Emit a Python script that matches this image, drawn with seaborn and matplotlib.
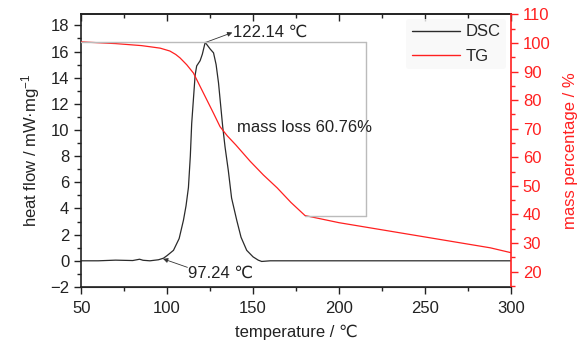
import numpy as np
import pandas as pd
import seaborn as sns
import matplotlib.pyplot as plt
from matplotlib.lines import Line2D
from matplotlib.ticker import MultipleLocator

# DSC curve (heat flow, mW/mg)
dsc_temp = [50, 60, 70, 80, 84, 86, 90, 95, 97.9, 100, 103.7, 107, 109.5, 111, 112.4,
            113.5, 114.3, 116.3, 117.2, 119.2, 120.5, 122.14, 125, 127, 128.5, 129.9,
            132.3, 133.7, 135.6, 137.5, 140.5, 143, 146.3, 150, 153, 155, 160, 200, 250, 300]
dsc_flow = [0.0, 0.0, 0.05, 0.02, 0.12, 0.04, 0.0, 0.08, 0.2, 0.4, 0.8, 1.7, 3.1, 4.2,
            5.6, 8.0, 10.5, 14.2, 14.9, 15.3, 15.8, 16.7, 16.2, 15.9, 15.0, 13.6,
            10.3, 8.7, 6.9, 4.8, 3.1, 1.8, 0.8, 0.3, 0.05, -0.05, 0.0, 0.0, 0.0, 0.0]

# TG curve (mass percentage, %)
tg_temp = [50, 70, 85, 90, 96, 101.6, 105, 107.5, 111.4, 115.3, 119.2, 123.1, 127,
           130.8, 135, 140, 148.3, 156, 164, 172, 180.2, 200, 230, 259, 288, 300]
tg_mass = [100.4, 99.8, 99.1, 98.7, 98.2, 97.2, 96.0, 94.8, 92.4, 89.5, 84.8, 80.1, 75.4,
           70.7, 67.5, 64.3, 58.6, 53.8, 49.3, 44.2, 39.6, 37.1, 34.1, 31.2, 28.3, 26.6]

peak_t, peak_v = 122.14, 16.7
onset_t, onset_v = 97.24, 0.2
loss_start, loss_end = 100.5, 39.6
loss_t_end, loss_t_box = 180.2, 215.7

dsc = pd.DataFrame({"temperature": dsc_temp, "heat flow": dsc_flow})
tg = pd.DataFrame({"temperature": tg_temp, "mass": tg_mass})

sns.set_style("ticks")
plt.rcParams["font.family"] = ["Liberation Sans", "DejaVu Sans"]
plt.rcParams["mathtext.default"] = "regular"
plt.rcParams["font.size"] = 12

dark = "#222222"
red = "#ff2020"

fig = plt.figure(figsize=(5.88, 3.40), dpi=100)
ax = fig.add_axes([0.138, 0.156, 0.731, 0.804])
ax2 = ax.twinx()

sns.lineplot(data=dsc, x="temperature", y="heat flow", ax=ax, color="#2b2b2b", lw=0.9)
sns.lineplot(data=tg, x="temperature", y="mass", ax=ax2, color=red, lw=0.9)

ax.set_xlim(50, 300)
ax.set_ylim(-2, 18.9)
ax2.set_ylim(14.6, 110.3)

ax.xaxis.set_major_locator(MultipleLocator(50))
ax.xaxis.set_minor_locator(MultipleLocator(25))
ax.yaxis.set_major_locator(MultipleLocator(2))
ax.yaxis.set_minor_locator(MultipleLocator(1))
ax2.yaxis.set_major_locator(MultipleLocator(10))
ax2.yaxis.set_minor_locator(MultipleLocator(5))

ax.tick_params(axis="both", which="major", length=5, width=1, labelsize=12, colors=dark)
ax.tick_params(axis="both", which="minor", length=3, width=1, colors=dark)
ax.tick_params(axis="x", which="both", pad=5)
ax2.tick_params(axis="y", which="major", length=5, width=1, labelsize=12, colors=red)
ax2.tick_params(axis="y", which="minor", length=3, width=1, colors=red)

# top axis with inward ticks, no labels
top = ax.secondary_xaxis("top")
top.xaxis.set_major_locator(MultipleLocator(50))
top.xaxis.set_minor_locator(MultipleLocator(25))
top.tick_params(which="major", direction="in", length=5, width=1, colors=dark, labeltop=False)
top.tick_params(which="minor", direction="in", length=3, width=1, colors=dark)
top.spines["top"].set_color(dark)
top.spines["top"].set_linewidth(1.2)

for s in ["left", "bottom", "top"]:
    ax.spines[s].set_color(dark)
    ax.spines[s].set_linewidth(1.2)
ax2.spines["right"].set_color(red)
ax2.spines["right"].set_linewidth(1.2)
ax2.spines["left"].set_visible(False)
ax2.spines["top"].set_visible(False)
ax.spines["right"].set_visible(False)

ax.set_xlabel("temperature / ℃", fontsize=12, color=dark, labelpad=6)
ax.set_ylabel("heat flow / mW·mg$^{-1}$", fontsize=12, color=dark, labelpad=6)
ax2.set_ylabel("mass percentage / %", fontsize=12, color=red, labelpad=9)

# mass-loss bracket
ax2.plot([50, loss_t_box], [loss_start, loss_start], color="#bbbbbb", lw=1)
ax2.plot([loss_t_box, loss_t_box], [loss_start, loss_end], color="#bbbbbb", lw=1)
ax2.plot([loss_t_end, loss_t_box], [loss_end, loss_end], color="#bbbbbb", lw=1)

ax.text(138.3, 17.45, "122.14 ℃", fontsize=12, color=dark, ha="left", va="center")
ax.annotate("", xy=(137.9, 17.45), xytext=(peak_t + 0.3, peak_v),
            arrowprops=dict(arrowstyle="-|>", color="#333333", lw=0.6, mutation_scale=7,
                            shrinkA=0, shrinkB=0))
ax.text(112.2, -0.92, "97.24 ℃", fontsize=12, color=dark, ha="left", va="center")
ax.annotate("", xy=(onset_t + 0.4, onset_v - 0.05), xytext=(111.8, -0.5),
            arrowprops=dict(arrowstyle="-|>", color="#333333", lw=0.6, mutation_scale=7,
                            shrinkA=0, shrinkB=0))
ax2.text(140.5, 70.3, "mass loss 60.76%", fontsize=12, color=dark, ha="left", va="center")

handles = [Line2D([], [], color="#2b2b2b", lw=1), Line2D([], [], color=red, lw=1)]
leg = ax.legend(handles, ["DSC", "TG"], loc="upper right", bbox_to_anchor=(1.0, 1.0),
                frameon=True, fontsize=12, handlelength=2.9, handletextpad=0.3,
                borderpad=0.35, labelspacing=0.55, borderaxespad=0.3)
leg.get_frame().set_facecolor("#f8f8f8")
leg.get_frame().set_edgecolor("none")

fig.savefig("out.png", dpi=100)
